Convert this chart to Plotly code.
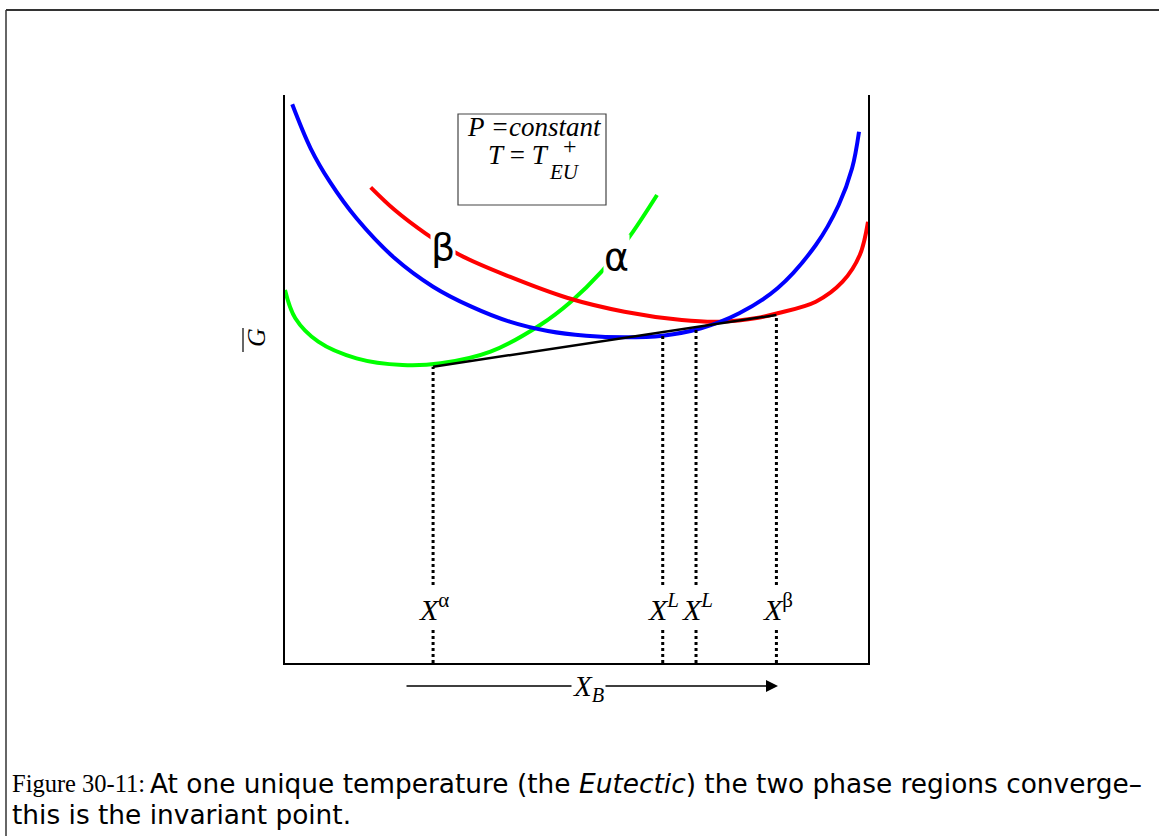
import plotly.graph_objects as go

# ---- data (X_B in 0..1, G in arbitrary 0..1 units) ----
blue_x = [0.0124, 0.0439, 0.0768, 0.1226, 0.1883, 0.2540, 0.3197, 0.3853, 0.4509, 0.5166,
          0.5822, 0.6479, 0.7136, 0.7791, 0.8448, 0.9105, 0.9497, 0.9727, 0.9846]
blue_g = [0.9836, 0.9062, 0.8474, 0.7829, 0.7125, 0.6625, 0.6273, 0.6009, 0.5845, 0.5762,
          0.5734, 0.5762, 0.5893, 0.6157, 0.6597, 0.7359, 0.8063, 0.8709, 0.9354]

red_x = [0.1470, 0.1883, 0.2408, 0.3000, 0.3853, 0.4837, 0.5822, 0.6806, 0.7463, 0.8120,
         0.8448, 0.9105, 0.9564, 0.9859, 1.0000]
red_g = [0.8375, 0.7975, 0.7565, 0.7183, 0.6801, 0.6431, 0.6185, 0.6039, 0.6009, 0.6079,
         0.6157, 0.6361, 0.6713, 0.7183, 0.7769]

green_x = [0.0000, 0.0177, 0.0571, 0.1226, 0.2015, 0.2671, 0.3525, 0.4377, 0.4904, 0.5429,
           0.5889, 0.6381]
green_g = [0.6567, 0.6069, 0.5657, 0.5364, 0.5246, 0.5276, 0.5481, 0.5951, 0.6361, 0.6889,
           0.7477, 0.8239]

tangent_x = [0.2540, 0.8429]
tangent_g = [0.5217, 0.6127]

comp_x = [0.2540, 0.6479, 0.7050, 0.8429]          # X^alpha, X^L, X^L, X^beta
comp_top = [0.5217, 0.5800, 0.5890, 0.6127]
comp_labels = ["<i>X</i><sup>α</sup>", "<i>X</i><sup><i>L</i></sup>",
               "<i>X</i><sup><i>L</i></sup>", "<i>X</i><sup>β</sup>"]

W, H = 1159, 836
L, R, T, B = 285, 868, 95, 663


def px_x(p):
    return (p - L) / (R - L)


def px_y(p):
    return (B - p) / (B - T)


fig = go.Figure()

for xs, gs, col in [(green_x, green_g, "#00ff00"), (red_x, red_g, "#ff0000"),
                    (blue_x, blue_g, "#0000ff")]:
    fig.add_trace(go.Scatter(x=xs, y=gs, mode="lines", line=dict(color=col, width=4, shape="spline"),
                             hoverinfo="skip", showlegend=False, cliponaxis=False))

for xv, top in zip(comp_x, comp_top):
    fig.add_trace(go.Scatter(x=[xv, xv], y=[0, top], mode="lines",
                             line=dict(color="black", width=3, dash="3px,3px"),
                             hoverinfo="skip", showlegend=False))

fig.add_trace(go.Scatter(x=tangent_x, y=tangent_g, mode="lines", line=dict(color="black", width=2.5),
                         hoverinfo="skip", showlegend=False))

serif = "Liberation Serif"
sans = "DejaVu Sans"


def note(x, y, text, size, family=serif, **kw):
    d = dict(x=x, y=y, xref="paper", yref="paper", text=text, showarrow=False,
             xanchor="center", yanchor="middle", font=dict(family=family, size=size, color="black"))
    d.update(kw)
    return d


ann = []
for xv, lab in zip(comp_x, comp_labels):
    ann.append(note(xv + 0.002, px_y(607), lab, 30, bgcolor="white", borderpad=2))

ann.append(note(px_x(443), px_y(247), "β", 38, family=sans, bgcolor="white", borderpad=0))
ann.append(note(px_x(616), px_y(257), "α", 38, family=sans, bgcolor="white", borderpad=0))

# condition box text
ann.append(note(px_x(534), px_y(127), "<i>P =constant</i>", 27))
ann.append(note(px_x(551), px_y(155), "<i>T</i> = <i>T</i>", 27, xanchor="right"))
ann.append(note(px_x(570), px_y(146), "+", 24))
ann.append(note(px_x(564), px_y(172), "<i>EU</i>", 21))

# y label
ann.append(note(px_x(256), px_y(338), "<i>G</i>", 26, textangle=-90))

# X_B arrow
ann.append(dict(x=px_x(778), y=px_y(686), ax=405 - 778, ay=0, xref="paper", yref="paper",
                axref="pixel", ayref="pixel", text="", showarrow=True, arrowhead=2, arrowsize=1.6,
                arrowwidth=1.5, arrowcolor="black"))
ann.append(note(px_x(588), px_y(688), "<i>X</i><sub><i>B</i></sub>", 29, bgcolor="white", borderpad=1))

# caption
ann.append(note(px_x(10), px_y(783), "Figure 30-11:", 24.5, xanchor="left"))
ann.append(note(px_x(148), px_y(783),
                "At one unique temperature (the <i>Eutectic</i>) the two phase regions converge–",
                26.4, family=sans, xanchor="left"))
ann.append(note(px_x(10), px_y(814), "this is the invariant point.", 26.4, family=sans, xanchor="left"))

shapes = [
    dict(type="rect", xref="paper", yref="paper", x0=px_x(458), x1=px_x(606), y0=px_y(114), y1=px_y(205),
         line=dict(color="#444", width=1.2)),
    dict(type="line", xref="paper", yref="paper", x0=px_x(243), x1=px_x(243), y0=px_y(328), y1=px_y(352),
         line=dict(color="black", width=1.2)),
    dict(type="line", xref="paper", yref="paper", x0=px_x(6), x1=px_x(W + 5), y0=px_y(10), y1=px_y(10),
         line=dict(color="#333", width=2)),
    dict(type="line", xref="paper", yref="paper", x0=px_x(6), x1=px_x(6), y0=px_y(10), y1=px_y(H + 5),
         line=dict(color="#333", width=1.5)),
]

fig.update_layout(
    width=W, height=H,
    margin=dict(l=L, r=W - R, t=T, b=H - B, pad=0),
    paper_bgcolor="white", plot_bgcolor="white",
    showlegend=False,
    xaxis=dict(range=[0, 1], showgrid=False, zeroline=False, showticklabels=False, ticks="",
               showline=True, linecolor="black", linewidth=1.5, mirror=False),
    yaxis=dict(range=[0, 1], showgrid=False, zeroline=False, showticklabels=False, ticks="",
               showline=True, linecolor="black", linewidth=1.5, mirror=True),
    annotations=ann, shapes=shapes,
)

fig.write_html("out.html", config={"displayModeBar": False})
